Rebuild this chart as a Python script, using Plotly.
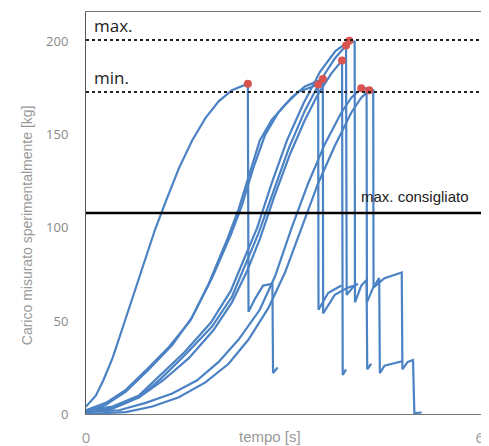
import plotly.graph_objects as go

# load curves (tempo [s], carico [kg])
t1 = [0, 1.5, 2.6, 4, 5.4, 7, 8.5, 10.4, 12, 14, 16, 18, 20, 22, 24.4,
      24.5, 25.5, 26.7, 28.1, 28.2, 28.9]
y1 = [4, 10, 18, 30, 45, 62, 78, 99, 114, 132, 147, 159, 168, 174, 177.5,
      55, 62, 69, 70, 22, 25]

t2 = [0, 3, 6, 9.2, 12.5, 15.7, 18.5, 21.3, 23, 24.7, 26.2, 28, 30, 32, 35,
      35.05, 36.5, 38.5]
y2 = [2, 6, 13, 24, 36, 50, 70, 94, 110, 130, 147, 158, 166, 173, 177,
      56, 65, 69]

t3 = [0, 3, 6, 9.5, 13, 16, 19, 21.8, 23.5, 25.2, 27, 29, 31, 33, 35.7,
      35.75, 37.5, 39.5, 40.5]
y3 = [1, 5, 12, 24, 37, 52, 73, 96, 112, 132, 150, 162, 170, 176, 180,
      54, 64, 68, 69]

t4 = [0, 4, 8, 11.6, 15.5, 19.2, 22, 24.3, 26.2, 28.5, 30.8, 33, 35, 37, 38.6,
      38.7, 39.2]
y4 = [1, 3, 9, 18, 30, 45, 60, 77, 94, 118, 140, 158, 172, 183, 190,
      21, 24]

t5 = [0, 4, 8, 11.3, 15, 19, 22, 24, 26, 28.3, 30.6, 33, 35.5, 37.5, 39.2,
      39.3, 40.2, 41]
y5 = [1, 3, 9, 19, 32, 47, 63, 80, 97, 120, 143, 163, 180, 191, 198,
      64, 68, 70]

t6 = [0, 4, 8, 11, 14.8, 18.8, 21.8, 23.8, 25.8, 28, 30.3, 32.8, 35.3, 37.6, 39.7,
      40.5, 40.55, 41.5, 42.3, 42.4, 43]
y6 = [2, 4, 10, 20, 33, 49, 66, 83, 100, 124, 147, 167, 184, 195, 200.5,
      200, 60, 69, 72, 24, 27]

t7 = [0, 5, 9, 13, 16.7, 20, 23, 26.2, 28.5, 31, 33.5, 36, 38.5, 40, 41.5,
      42.3, 42.35, 43.3, 44.2, 44.3, 45, 47, 47.8]
y7 = [1, 2, 6, 11, 18, 28, 40, 56, 74, 100, 124, 145, 162, 170, 175,
      175, 60, 68, 73, 22, 26, 28, 28.5]

t8 = [0, 6, 10, 14, 18, 21.5, 24.5, 27.5, 30, 32.5, 35, 37.5, 40, 41.5, 42.7,
      43.3, 43.35, 45, 47.6, 47.7, 48.5, 49.3, 49.5, 50.6]
y8 = [0, 1, 4, 9, 17, 27, 40, 57, 76, 100, 124, 144, 162, 170, 174,
      174, 68, 73, 76, 24, 28, 29, 0.5, 0.8]

# rupture points
peak_t = [24.4, 35, 35.7, 38.6, 39.2, 39.7, 41.5, 42.7]
peak_y = [177.5, 177, 180, 190, 198, 200.5, 175, 174]

max_level = 201
min_level = 173
advised_level = 108

curves = [(t1, y1), (t2, y2), (t3, y3), (t4, y4), (t5, y5), (t6, y6), (t7, y7), (t8, y8)]

fig = go.Figure()
for t, y in curves:
    fig.add_trace(go.Scatter(x=t, y=y, mode="lines",
                             line=dict(color="#4b82c4", width=2.2), showlegend=False))

fig.add_trace(go.Scatter(x=peak_t, y=peak_y, mode="markers",
                         marker=dict(color="#d9534f", size=8), showlegend=False))

fig.add_hline(y=max_level, line=dict(color="#222", width=2, dash="dot"))
fig.add_hline(y=min_level, line=dict(color="#222", width=2, dash="dot"))
fig.add_hline(y=advised_level, line=dict(color="#000", width=2.5))

fig.add_annotation(x=0.015, y=max_level + 0.5, xref="paper", text="max.", showarrow=False,
                   xanchor="left", yanchor="bottom", font=dict(size=17, color="#222", family="Open Sans"))
fig.add_annotation(x=0.015, y=min_level + 0.5, xref="paper", text="min.", showarrow=False,
                   xanchor="left", yanchor="bottom", font=dict(size=17, color="#222", family="Open Sans"))
fig.add_annotation(x=0.967, y=advised_level + 3, xref="paper", text="max. consigliato", showarrow=False,
                   xanchor="right", yanchor="bottom", font=dict(size=15, color="#222", family="Liberation Sans"))
fig.add_annotation(x=0.462, y=-0.057, xref="paper", yref="paper", text="tempo [s]", showarrow=False,
                   yanchor="middle", font=dict(size=15, color="#999", family="Liberation Sans"))
fig.add_annotation(x=-0.173, y=0.47, xref="paper", yref="paper", textangle=-90,
                   text="Carico misurato sperimentalmente [kg]", showarrow=False,
                   font=dict(size=14, color="#999", family="Liberation Sans"))

fig.update_xaxes(range=[0, 60], tickvals=[0, 60], showgrid=False, zeroline=False,
                 showline=True, linecolor="#777", linewidth=1, mirror=True,
                 ticks="", ticklabelstandoff=10, automargin=False, ticklabeloverflow="allow",
                 tickfont=dict(size=15, color="#999", family="Open Sans"))
fig.update_yaxes(range=[0, 216], tickvals=[0, 50, 100, 150, 200], showgrid=False, zeroline=False,
                 showline=True, linecolor="#555", linewidth=1, mirror=True,
                 ticks="", ticklabelstandoff=14, automargin=False,
                 tickfont=dict(size=13, color="#888", family="Open Sans"))
# page body adds an 8px offset, so the figure is sized to end at the window edge
fig.update_layout(width=481, height=438, margin=dict(l=78, r=5, t=4, b=32),
                  plot_bgcolor="white", paper_bgcolor="white")

fig.write_html("out.html")
